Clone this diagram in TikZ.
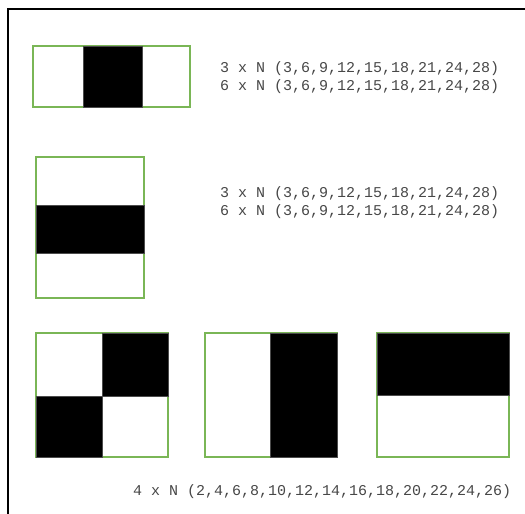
\documentclass[tikz,border=0pt]{standalone}
\usepackage{fontspec}
\setmonofont{Liberation Mono}
\usetikzlibrary{positioning}
\definecolor{verde}{RGB}{122,182,86}

\begin{document}
\begin{tikzpicture}[
    x=1pt, y=-1pt,
    line join=miter,
    cornice/.style  = {line width=2.2pt},
    riquadro/.style = {draw=verde, line width=1.1pt},
    nero/.style     = {fill=black, draw=black!70, line width=0.9pt},
    dicitura/.style = {font=\ttfamily\fontsize{15}{18}\selectfont, text=black!72,
                       align=left, inner sep=0pt, anchor=west}
]
\useasboundingbox (0,0) rectangle (525,514);

% ---- cornice ----
\draw[cornice] (8,514) -- (8,9) -- (525,9);

% ---- riga 1: bande verticali ----
\draw[riquadro] (33,46) rectangle (190,107);
\draw[nero] (83,46) rectangle (142,107);
\node[dicitura] (testo1) at (220,78) {3 x N (3,6,9,12,15,18,21,24,28)\\6 x N (3,6,9,12,15,18,21,24,28)};

% ---- riga 2: bande orizzontali ----
\draw[riquadro] (36,157) rectangle (144,298);
\draw[nero] (36,205) rectangle (144,253);
\node[dicitura] (testo2) at (220,203) {3 x N (3,6,9,12,15,18,21,24,28)\\6 x N (3,6,9,12,15,18,21,24,28)};

% ---- riga 3: scacchiera ----
\draw[riquadro] (36,333) rectangle (168,457);
\draw[nero] (102,333) rectangle (168,396);
\draw[nero] (36,396) rectangle (102,457);

% ---- riga 3: meta verticale ----
\draw[riquadro] (205,333) rectangle (337,457);
\draw[nero] (270,333) rectangle (337,457);

% ---- riga 3: meta orizzontale ----
\draw[riquadro] (377,333) rectangle (509,457);
\draw[nero] (377,333) rectangle (509,395);

\node[dicitura] (testo3) at (133,492) {4 x N (2,4,6,8,10,12,14,16,18,20,22,24,26)};

\end{tikzpicture}
\end{document}
